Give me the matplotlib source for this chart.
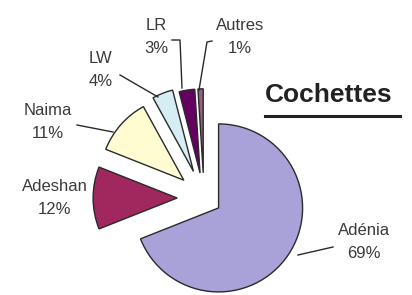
import numpy as np
import matplotlib
matplotlib.use('Agg')
import matplotlib.pyplot as plt

plt.rcParams['font.family'] = ['Liberation Sans', 'DejaVu Sans']

# data
labels = ['Adénia', 'Adeshan', 'Naima', 'LW', 'LR', 'Autres']
shares = [69, 12, 11, 4, 3, 1]
colors = ['#A8A2D8', '#A0285E', '#FFFCD2', '#D6EDF3', '#640060', '#93607F']
explode = [0.21, 0.32, 0.32, 0.34, 0.30, 0.30]  # fraction of radius
title = 'Cochettes'

W, H = 412, 295
fig = plt.figure(figsize=(W / 100, H / 100), dpi=100)
ax = fig.add_axes([0, 0, 1, 1])

cx, cy, r = 204, H - 198, 84
# matplotlib offsets exploded wedges in data units, so scale by the radius
wedges, _ = ax.pie(shares, colors=colors, explode=[e * r for e in explode],
                   startangle=90, counterclock=False, center=(cx, cy), radius=r,
                   frame=True, wedgeprops=dict(edgecolor='#2a2a2a', linewidth=1.0))
ax.set_xlim(0, W)
ax.set_ylim(0, H)
ax.set_aspect('equal')
ax.axis('off')

# label layout (image pixel coords, y down): text centre, leader path
label_pos = [(364, 242), (55, 198), (48, 122), (101, 70), (156, 37), (240, 37)]
leaders = [
    [(298, 255), (333, 247)],
    None,
    [(113, 132), (77, 125)],
    [(158, 97), (120, 75)],
    [(182, 88), (180, 40), (172, 40)],
    [(199, 90), (207, 42), (212, 41)],
]

for lab, val, (tx, ty), path in zip(labels, shares, label_pos, leaders):
    ax.text(tx, H - ty, f'{lab}\n{val}%', ha='center', va='center',
            fontsize=12, color='#3a3a3a', linespacing=1.6)
    if path:
        xs = [p[0] for p in path]
        ys = [H - p[1] for p in path]
        ax.plot(xs, ys, color='#2a2a2a', lw=1.0)

ax.text(329, H - 95, title, ha='center', va='center', fontsize=19,
        fontweight='bold', color='#222222')
ax.plot([265, 400], [H - 116, H - 116], color='#222222', lw=2.2)

fig.savefig('out.png', dpi=100)
